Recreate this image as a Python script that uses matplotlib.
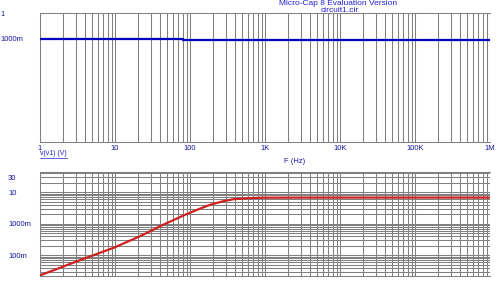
import matplotlib.pyplot as plt
import numpy as np

# top trace: v(v1) in volts
f_top = [1, 80, 80, 1e6]
v_top = [1.0, 1.0, 0.9999, 0.9999]

# bottom trace
f_bot = [1, 3.8, 9.5, 21.5, 44, 90, 140, 185, 270, 378, 600, 800, 1000, 3000, 1e4, 1e5, 1e6]
v_bot = [0.023, 0.077, 0.171, 0.40, 0.93, 2.02, 3.1, 3.98, 5.1, 6.0, 6.45, 6.62, 6.7, 6.75, 6.76, 6.76, 6.76]

xticks = [1, 10, 100, 1e3, 1e4, 1e5, 1e6]
xlabels = ['1', '10', '100', '1K', '10K', '100K', '1M']
yticks_bot = [30, 10, 1, 0.1]
ylabels_bot = ['30', '10', '1000m', '100m']

txt = '#1414a0'
grid = '#808080'
plt.rcParams['font.family'] = ['Liberation Sans', 'DejaVu Sans']

fig = plt.figure(figsize=(5, 2.82), dpi=100)
ax1 = fig.add_axes([0.08, 0.4965, 0.9, 0.4574])
ax2 = fig.add_axes([0.08, 0.0213, 0.9, 0.369])

def minor_lines(lo, hi):
    out = []
    d = lo
    while d < hi:
        for k in range(1, 10):
            out.append(k * d)
        d *= 10
    out.append(hi)
    return out

xgrid = minor_lines(1, 1e6)

for ax in (ax1, ax2):
    ax.set_xscale('log')
    ax.set_xlim(1, 1e6)
    for x in xgrid:
        ax.axvline(x, color=grid, lw=0.75, zorder=1)
    for s in ax.spines.values():
        s.set_color(grid)
        s.set_linewidth(0.75)
    ax.spines['right'].set_visible(False)
    ax.tick_params(length=0, colors=txt, labelsize=5.5)
    ax.minorticks_off()

# top
ax1.plot(f_top, v_top, color='#0000c0', lw=1.6, zorder=3)
ax1.set_ylim(0.99, 1.0025)
ax1.set_yticks([1.0025, 1.0])
ax1.set_yticklabels(['1', '1000m'])
ax1.tick_params(axis='y', pad=28.8)
for t in ax1.get_yticklabels():
    t.set_horizontalalignment('left')
ax1.set_xticks(xticks)
ax1.set_xticklabels(xlabels)
ax1.tick_params(axis='x', pad=2)

# bottom
ax2.set_yscale('log')
ax2.set_ylim(0.022, 44)
for y in minor_lines(0.01, 10):
    if 0.022 < y < 44:
        ax2.axhline(y, color=grid, lw=0.75, zorder=1)
for y in (20, 30, 40):
    ax2.axhline(y, color=grid, lw=0.75, zorder=1)
ax2.plot(f_bot, v_bot, color='#d02020', lw=1.6, zorder=3)
ax2.set_yticks(yticks_bot)
ax2.set_yticklabels(ylabels_bot, va='center_baseline')
ax2.tick_params(axis='y', pad=23)
for t in ax2.get_yticklabels():
    t.set_horizontalalignment('left')
ax2.set_xticks([])
ax2.minorticks_off()

fig.text(0.08, 0.454, 'v(v1) (V)', color='#2020d0', fontsize=5, ha='left', va='center')
fig.add_artist(plt.Line2D([0.08, 0.134], [0.438, 0.438], color='#2020d0', lw=0.5))
fig.text(0.59, 0.426, 'F (Hz)', color=txt, fontsize=5.5, ha='center', va='center')
fig.text(0.677, 0.988, 'Micro-Cap 8 Evaluation Version', color='#2020d0', fontsize=6, ha='center', va='center')
fig.text(0.68, 0.962, 'circuit1.cir', color='#2020d0', fontsize=6, ha='center', va='center')

fig.savefig('out.png', dpi=100)
